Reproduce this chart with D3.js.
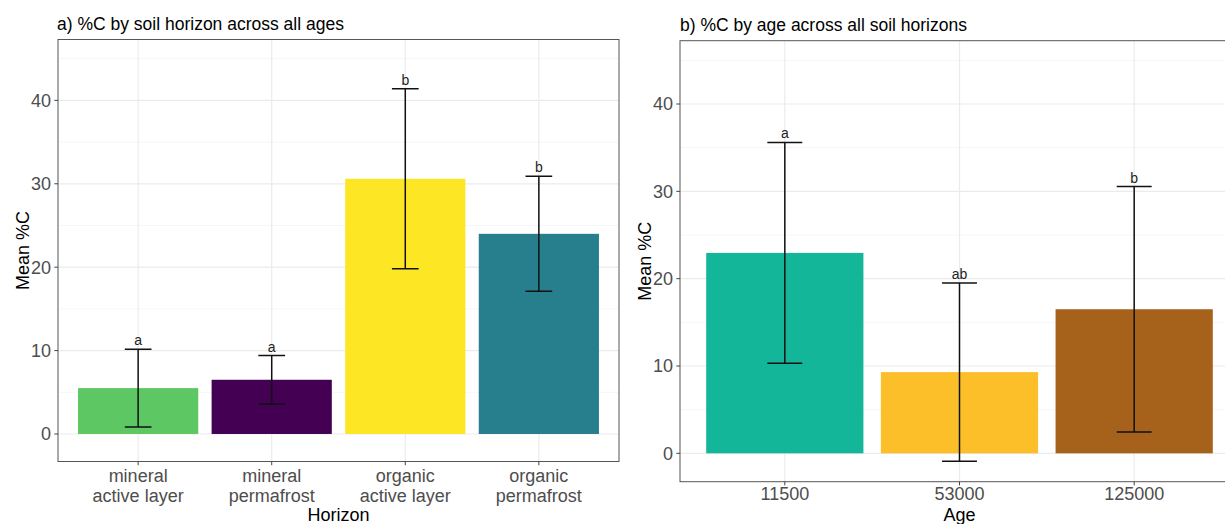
<!DOCTYPE html>
<html>
<head>
<meta charset="utf-8">
<script src="https://cdn.jsdelivr.net/npm/d3@7"></script>
<style>
  body { margin: 0; background: #fff; }
  text { font-family: "Liberation Sans", Arial, sans-serif; }
</style>
</head>
<body>
<script>
// panel a) data: mean %C and error (half width) per soil horizon
const horizonCats = ["mineral active layer", "mineral permafrost", "organic active layer", "organic permafrost"];
const horizonTickLabels = [["mineral", "active layer"], ["mineral", "permafrost"], ["organic", "active layer"], ["organic", "permafrost"]];
const horizonMean = [5.5, 6.5, 30.6, 24.0];
const horizonErr = [4.65, 2.9, 10.8, 6.9];
const horizonLetters = ["a", "a", "b", "b"];
const horizonColors = ["#5DC863", "#440154", "#FDE725", "#277F8E"];

// panel b) data: mean %C per age
const ageCats = ["11500", "53000", "125000"];
const ageMean = [22.95, 9.3, 16.5];
const ageErr = [12.65, 10.2, 14.05];
const ageLetters = ["a", "ab", "b"];
const ageColors = ["#14B69A", "#FCBF2A", "#A6611A"];

const yTicks = [0, 10, 20, 30, 40];
const yMinor = [5, 15, 25, 35, 45];

const CONFIG = {
    svg_width: 1225,
    svg_height: 524,
    font_tick: 18,
    font_title: 18,
    font_main: 17.5,
    font_letter: 14
};

const svg = d3.select('body').append('svg')
    .attr('width', CONFIG.svg_width)
    .attr('height', CONFIG.svg_height);

function draw_panel(p) {
    const g = svg.append('g');
    const x = d3.scaleBand().domain(p.cats).range([p.left, p.right]).paddingInner(0.1).paddingOuter(0.15);
    const y = d3.scaleLinear().domain(p.yDomain).range([p.bottom, p.top]);

    // clip so the panel can run off the right edge like the reference
    g.append('clipPath').attr('id', p.id + '-clip')
        .append('rect').attr('x', p.left).attr('y', p.top)
        .attr('width', p.right - p.left).attr('height', p.bottom - p.top);
    const plot = g.append('g').attr('clip-path', `url(#${p.id}-clip)`);

    // grid
    plot.selectAll('.minor').data(yMinor).enter().append('line')
        .attr('x1', p.left).attr('x2', p.right)
        .attr('y1', d => y(d)).attr('y2', d => y(d))
        .attr('stroke', '#F4F4F4').attr('stroke-width', 0.8);
    plot.selectAll('.major').data(yTicks).enter().append('line')
        .attr('x1', p.left).attr('x2', p.right)
        .attr('y1', d => y(d)).attr('y2', d => y(d))
        .attr('stroke', '#EBEBEB').attr('stroke-width', 1.2);
    plot.selectAll('.vmajor').data(p.cats).enter().append('line')
        .attr('x1', d => x(d) + x.bandwidth() / 2).attr('x2', d => x(d) + x.bandwidth() / 2)
        .attr('y1', p.top).attr('y2', p.bottom)
        .attr('stroke', '#EBEBEB').attr('stroke-width', 1.2);

    // bars
    plot.selectAll('.bar').data(p.cats).enter().append('rect')
        .attr('x', d => x(d))
        .attr('y', (d, i) => y(p.mean[i]))
        .attr('width', x.bandwidth())
        .attr('height', (d, i) => y(0) - y(p.mean[i]))
        .attr('fill', (d, i) => p.colors[i]);

    // error bars
    const cap = x.step() * 0.2;
    p.cats.forEach((d, i) => {
        const cx = x(d) + x.bandwidth() / 2;
        const hi = y(p.mean[i] + p.err[i]);
        const lo = y(p.mean[i] - p.err[i]);
        plot.append('line').attr('x1', cx).attr('x2', cx).attr('y1', hi).attr('y2', lo)
            .attr('stroke', '#111').attr('stroke-width', 1.5);
        [hi, lo].forEach(yy => {
            plot.append('line').attr('x1', cx - cap / 2).attr('x2', cx + cap / 2).attr('y1', yy).attr('y2', yy)
                .attr('stroke', '#111').attr('stroke-width', 1.5);
        });
        plot.append('text').text(p.letters[i])
            .attr('x', cx).attr('y', hi - 4)
            .attr('font-size', CONFIG.font_letter)
            .attr('text-anchor', 'middle')
            .attr('fill', '#222');
    });

    // border
    g.append('rect')
        .attr('x', p.left).attr('y', p.top)
        .attr('width', p.right - p.left).attr('height', p.bottom - p.top)
        .attr('fill', 'none').attr('stroke', '#555').attr('stroke-width', 1);

    // y axis ticks + labels
    yTicks.forEach(t => {
        g.append('line').attr('x1', p.left - 3.7).attr('x2', p.left).attr('y1', y(t)).attr('y2', y(t))
            .attr('stroke', '#444').attr('stroke-width', 1);
        g.append('text').text(t)
            .attr('x', p.left - 7).attr('y', y(t)).attr('dy', '0.36em')
            .attr('font-size', CONFIG.font_tick).attr('text-anchor', 'end').attr('fill', '#4D4D4D');
    });

    // x axis ticks + labels
    p.cats.forEach((d, i) => {
        const cx = x(d) + x.bandwidth() / 2;
        g.append('line').attr('x1', cx).attr('x2', cx).attr('y1', p.bottom).attr('y2', p.bottom + 3.7)
            .attr('stroke', '#444').attr('stroke-width', 1);
        const lines = p.tickLabels[i];
        lines.forEach((l, j) => {
            g.append('text').text(l)
                .attr('x', cx).attr('y', p.bottom + p.tickOffset + j * 20.5)
                .attr('font-size', CONFIG.font_tick).attr('text-anchor', 'middle').attr('fill', '#4D4D4D');
        });
    });

    // axis titles
    g.append('text').text(p.xTitle)
        .attr('x', (p.left + p.right) / 2).attr('y', 520.5)
        .attr('font-size', CONFIG.font_title).attr('text-anchor', 'middle').attr('fill', '#000');
    g.append('text').text('Mean %C')
        .attr('transform', `translate(${p.yTitleX},${(p.top + p.bottom) / 2}) rotate(-90)`)
        .attr('font-size', CONFIG.font_title).attr('text-anchor', 'middle').attr('fill', '#000');

    // panel title
    g.append('text').text(p.title)
        .attr('x', p.titleX).attr('y', p.titleY)
        .attr('font-size', CONFIG.font_main).attr('fill', '#000');
}

draw_panel({
    id: 'pa',
    cats: horizonCats,
    tickLabels: horizonTickLabels,
    mean: horizonMean, err: horizonErr, letters: horizonLetters, colors: horizonColors,
    left: 58, right: 619, top: 39.5, bottom: 461.5,
    yDomain: [-3.3, 47.3],
    tickOffset: 20,
    xTitle: 'Horizon',
    yTitleX: 28.5,
    title: 'a) %C by soil horizon across all ages',
    titleX: 57, titleY: 30
});

draw_panel({
    id: 'pb',
    cats: ageCats,
    tickLabels: ageCats.map(d => [d]),
    mean: ageMean, err: ageErr, letters: ageLetters, colors: ageColors,
    left: 680, right: 1239, top: 40.7, bottom: 481.7,
    yDomain: [-3.25, 47.25],
    tickOffset: 18.5,
    xTitle: 'Age',
    yTitleX: 650.5,
    title: 'b) %C by age across all soil horizons',
    titleX: 680, titleY: 31
});
</script>
</body>
</html>
